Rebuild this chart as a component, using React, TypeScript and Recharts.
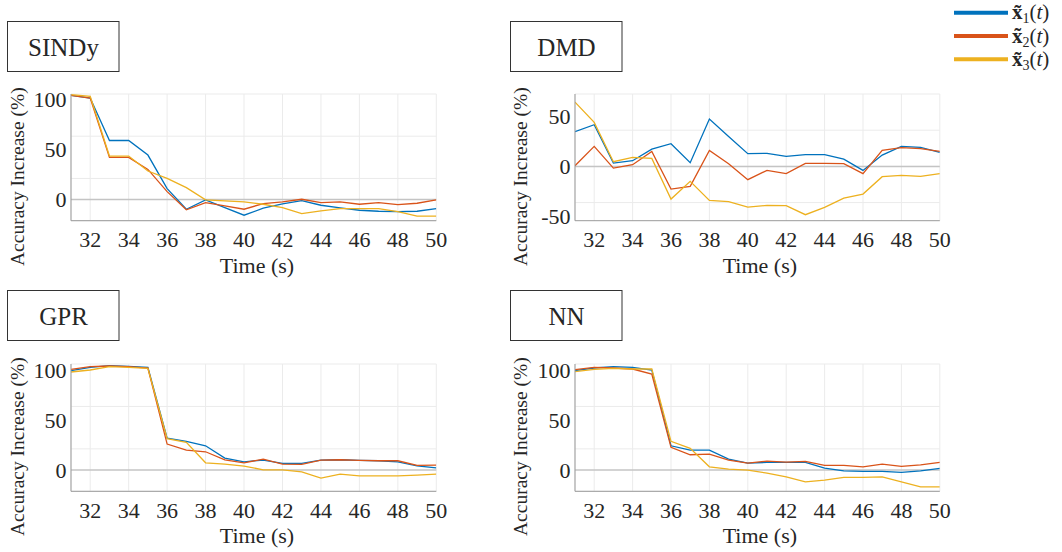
import { CartesianGrid, Line, LineChart, ReferenceLine, XAxis, YAxis } from "recharts";

// time stamps (s)
const time = [31, 32, 33, 34, 35, 36, 37, 38, 39, 40, 41, 42, 43, 44, 45, 46, 47, 48, 49, 50];
const timeTicks = [32, 34, 36, 38, 40, 42, 44, 46, 48, 50];

// accuracy increase (%) per method and state
const sindyX1 = [104.7, 102, 59.3, 59.3, 44.7, 11, -9.7, -0.3, -8, -15.7, -8.7, -4.3, -1, -5.7, -8.3, -10.7, -11.7, -12, -11.7, -9];
const sindyX2 = [104.7, 102, 42.3, 42.3, 30.3, 8, -10.3, -3, -6.3, -9.7, -4, -2.3, 0.3, -3, -2.3, -4.7, -3, -5, -3.7, -0.3];
const sindyX3 = [105.3, 103.7, 43.7, 43.7, 28.7, 21.3, 12, -0.3, -1.3, -2.3, -4.7, -8, -14, -11.3, -9, -9, -9, -12, -16.7, -16.7];

const dmdX1 = [34.7, 41.7, 3.3, 5.7, 17.3, 22.7, 3.7, 47.3, 30, 12.7, 13, 10, 11.7, 11.7, 7.3, -4, 11.3, 20, 19, 14];
const dmdX2 = [0.7, 20, -1.7, 1.7, 15, -22.7, -20, 16, 2.7, -13.3, -4, -7.3, 3, 3, 2.7, -7.3, 16, 18.7, 17.7, 15];
const dmdX3 = [64.3, 44, 4.7, 9, 8, -32.7, -15, -34, -35.3, -40.7, -39, -39.3, -48.3, -41, -31.7, -27.7, -10.3, -9, -10, -7.3];

const gprX1 = [99.3, 102.7, 104.3, 103.7, 102.7, 32, 28.7, 24.3, 12, 8.3, 10, 6.7, 6.7, 10, 10.3, 9.7, 9.3, 8.3, 4.3, 2.3];
const gprX2 = [100.7, 103.3, 104, 103.3, 102, 26, 20, 18.3, 10.3, 7.3, 11, 6, 5.7, 10, 10.3, 9.7, 9.3, 9.3, 4.7, 5];
const gprX3 = [98, 100, 103.3, 102.7, 101.7, 31.3, 27.7, 7.3, 6, 4, 0.3, 0.3, -1.7, -8, -4, -5.7, -5.7, -5.7, -5, -4];

const nnX1 = [99.3, 102, 103.3, 102.7, 100, 24.3, 20, 20, 11, 7, 7.7, 7.7, 7.7, 2, -0.7, -1.3, -1.3, -2.3, -0.7, 1.7];
const nnX2 = [100.3, 102.7, 102, 101, 96, 22.7, 15.3, 16, 10, 7, 9, 8, 8.7, 4.7, 4.7, 3.3, 6, 3.7, 5.3, 7.7];
const nnX3 = [98.3, 100.7, 101.7, 101, 101, 28.7, 21.7, 3.3, 1, 0, -3, -6.7, -11.7, -10, -7.3, -7.3, -6.7, -11.7, -16.7, -16.7];

const seriesKeys = ["x1", "x2", "x3"];
const seriesSubs = ["1", "2", "3"];
const colors = ["#0072BD", "#D95319", "#EDB120"];

const serif = "Liberation Serif";

type Panel = {
  title: string;
  series: number[][];
  yTicks: number[];
  yDomain: [number, number];
  gridStep: number;
  plot: { left: number; top: number; width: number; height: number };
  box: { x: number; y: number };
};

const panels: Panel[] = [
  {
    title: "SINDy",
    series: [sindyX1, sindyX2, sindyX3],
    yTicks: [0, 50, 100],
    yDomain: [-21.2, 106],
    gridStep: 21.2,
    plot: { left: 71.3, top: 94.3, width: 365.3, height: 126.7 },
    box: { x: 7.5, y: 21.5 },
  },
  {
    title: "DMD",
    series: [dmdX1, dmdX2, dmdX3],
    yTicks: [-50, 0, 50],
    yDomain: [-54.3, 72.4],
    gridStep: 18.1,
    plot: { left: 574.5, top: 94.3, width: 364.8, height: 126.7 },
    box: { x: 510.5, y: 21.5 },
  },
  {
    title: "GPR",
    series: [gprX1, gprX2, gprX3],
    yTicks: [0, 50, 100],
    yDomain: [-21.2, 106],
    gridStep: 21.2,
    plot: { left: 71.3, top: 364, width: 365.3, height: 127.3 },
    box: { x: 7.5, y: 290.5 },
  },
  {
    title: "NN",
    series: [nnX1, nnX2, nnX3],
    yTicks: [0, 50, 100],
    yDomain: [-21.2, 106],
    gridStep: 21.2,
    plot: { left: 574.5, top: 364, width: 364.8, height: 127.3 },
    box: { x: 510.5, y: 290.5 },
  },
];

const YTick = ({ x, y, payload }: any) => (
  <text x={x - 4.5} y={y} textAnchor="end" dominantBaseline="central" fontFamily={serif} fontSize={22} fill="#262626">
    {payload.value}
  </text>
);

const XTick = ({ x, y, payload }: any) => (
  <text x={x} y={y + 19} textAnchor="middle" dominantBaseline="central" fontFamily={serif} fontSize={22} fill="#262626">
    {payload.value}
  </text>
);

function PanelChart({ panel }: { panel: Panel }) {
  const { plot } = panel;
  const rows = time.map((t, i) => {
    const row: Record<string, number> = { t };
    seriesKeys.forEach((k, j) => (row[k] = panel.series[j][i]));
    return row;
  });
  const gridValues: number[] = [];
  for (let v = panel.yDomain[0]; v <= panel.yDomain[1] + 0.01; v += panel.gridStep) gridValues.push(v);

  const padL = 66;
  const padT = 14;
  return (
    <div style={{ position: "absolute", left: plot.left - padL, top: plot.top - padT }}>
      <LineChart
        width={plot.width + padL + 20}
        height={plot.height + padT + 60}
        data={rows}
        margin={{ top: padT, right: 20, left: padL - 60, bottom: 30 }}
      >
        <CartesianGrid stroke="#ebebeb" strokeWidth={1} horizontalValues={gridValues} />
        <ReferenceLine y={0} stroke="#c4c4c4" strokeWidth={1.5} />
        <XAxis
          dataKey="t"
          type="number"
          domain={[31, 50]}
          ticks={timeTicks}
          height={30}
          tickSize={0}
          tickMargin={0}
          tick={<XTick />}
          stroke="#9a9a9a"
          allowDataOverflow
        />
        <XAxis xAxisId="top" orientation="top" dataKey="t" type="number" domain={[31, 50]} height={0} tick={false} tickLine={false} stroke="#9a9a9a" />
        <YAxis
          type="number"
          domain={panel.yDomain}
          ticks={panel.yTicks}
          width={60}
          tickSize={0}
          tickMargin={0}
          tick={<YTick />}
          stroke="#9a9a9a"
          allowDataOverflow
        />
        <YAxis yAxisId="right" orientation="right" type="number" domain={panel.yDomain} width={0} tick={false} tickLine={false} stroke="#9a9a9a" />
        {seriesKeys.map((k, j) => (
          <Line
            key={k}
            dataKey={k}
            stroke={colors[j]}
            strokeWidth={1.3}
            dot={false}
            type="linear"
            isAnimationActive={false}
          />
        ))}
      </LineChart>
    </div>
  );
}

export default function App() {
  return (
    <div style={{ position: "absolute", left: 0, top: 0, width: 1062, height: 552, background: "#fff", overflow: "hidden" }}>
      {panels.map((p) => (
        <PanelChart key={p.title} panel={p} />
      ))}
      <svg width={1062} height={552} style={{ position: "absolute", left: 0, top: 0, pointerEvents: "none" }}>
        {panels.map((p) => {
          const cx = p.plot.left + p.plot.width / 2;
          const cy = p.plot.top + p.plot.height / 2;
          return (
            <g key={p.title}>
              <rect x={p.box.x} y={p.box.y} width={111.5} height={50} fill="#fff" stroke="#333" strokeWidth={1} />
              <text x={p.box.x + 56} y={p.box.y + 26} textAnchor="middle" dominantBaseline="central" fontFamily={serif} fontSize={25} fill="#262626">
                {p.title}
              </text>
              <text
                transform={`translate(${p.plot.left - 54}, ${cy + 19}) rotate(-90)`}
                textAnchor="middle"
                dominantBaseline="central"
                fontFamily={serif}
                fontSize={19.5}
                fill="#262626"
              >
                Accuracy Increase (%)
              </text>
              <text x={cx + 3} y={p.plot.top + p.plot.height + 44} textAnchor="middle" dominantBaseline="central" fontFamily={serif} fontSize={22} fill="#262626">
                Time (s)
              </text>
            </g>
          );
        })}
        {seriesKeys.map((k, j) => {
          const y = 12.7 + j * 23.3;
          return (
            <g key={k}>
              <line x1={954} x2={1008} y1={y} y2={y} stroke={colors[j]} strokeWidth={4} />
              <text x={1012} y={y + 6.5} fontFamily={serif} fontSize={21} fill="#262626">
                <tspan fontWeight="bold">x̃</tspan>
                <tspan fontSize={14} dy={4}>{seriesSubs[j]}</tspan>
                <tspan dy={-4}>(</tspan>
                <tspan fontStyle="italic">t</tspan>
                <tspan>)</tspan>
              </text>
            </g>
          );
        })}
      </svg>
    </div>
  );
}
